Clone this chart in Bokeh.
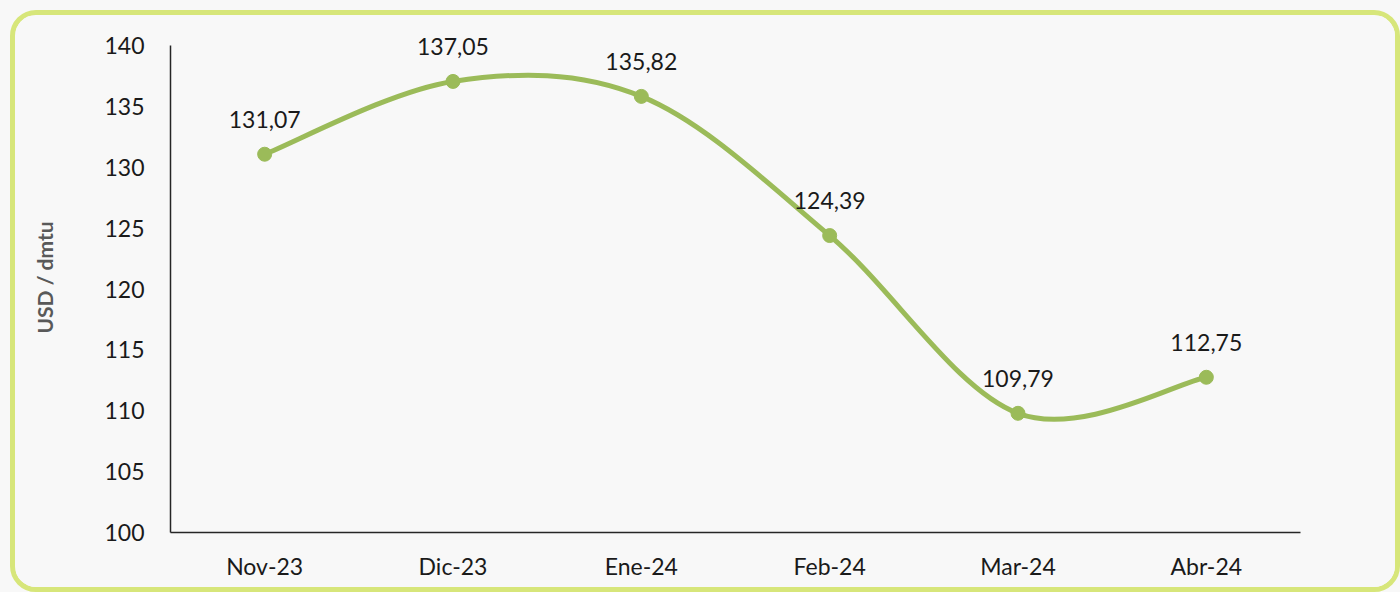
from bokeh.plotting import figure
from bokeh.models import FixedTicker, ColumnDataSource, Range1d, LabelSet
from bokeh.core.properties import value
from bokeh.layouts import column
from bokeh.embed import file_html
from bokeh.resources import INLINE

months = ["Nov-23", "Dic-23", "Ene-24", "Feb-24", "Mar-24", "Abr-24"]
prices = [131.07, 137.05, 135.82, 124.39, 109.79, 112.75]
y_ticks = [100, 105, 110, 115, 120, 125, 130, 135, 140]

FONT = "Lato"
GREEN = "#9bbb59"
BG = "#f8f8f8"

xs = list(range(len(months)))
labels = [f"{v:.2f}".replace(".", ",") for v in prices]

p = figure(width=1380, height=572, output_backend="svg", toolbar_location=None,
           x_range=Range1d(-0.5, len(months) - 0.5), y_range=Range1d(100, 141.89),
           min_border_left=155, min_border_right=95, min_border_top=7, min_border_bottom=55)
p.background_fill_color = BG
p.border_fill_color = BG
p.outline_line_color = None
p.grid.visible = False

# smoothed line (Catmull-Rom style bezier segments through the data points)
n = len(prices)
x0, y0, x1, y1, cx0, cy0, cx1, cy1 = [], [], [], [], [], [], [], []
for i in range(n - 1):
    pm = max(i - 1, 0)
    pp = min(i + 2, n - 1)
    x0.append(xs[i]); y0.append(prices[i])
    x1.append(xs[i + 1]); y1.append(prices[i + 1])
    cx0.append(xs[i] + (xs[i + 1] - xs[pm]) / 6)
    cy0.append(prices[i] + (prices[i + 1] - prices[pm]) / 6)
    cx1.append(xs[i + 1] - (xs[pp] - xs[i]) / 6)
    cy1.append(prices[i + 1] - (prices[pp] - prices[i]) / 6)
p.bezier(x0=x0, y0=y0, x1=x1, y1=y1, cx0=cx0, cy0=cy0, cx1=cx1, cy1=cy1,
         line_color=GREEN, line_width=5)

src = ColumnDataSource(dict(x=xs, y=prices, lab=labels))
p.scatter("x", "y", source=src, size=14, fill_color=GREEN, line_color=GREEN)
lbl = LabelSet(x="x", y="y", text="lab", source=src, text_align="center",
               text_baseline="middle", y_offset=35, text_font=value(FONT),
               text_font_size=value("23px"), text_color="#1a1a1a")
p.add_layout(lbl)

# axes
p.xaxis.ticker = FixedTicker(ticks=xs)
p.xaxis.major_label_overrides = {i: m for i, m in enumerate(months)}
p.yaxis.ticker = FixedTicker(ticks=y_ticks)
p.yaxis.bounds = (100, 140)
for ax in (p.xaxis, p.yaxis):
    ax.major_tick_line_color = None
    ax.minor_tick_line_color = None
    ax.axis_line_color = "#262626"
    ax.axis_line_width = 1.5
    ax.major_label_text_font = FONT
    ax.major_label_text_font_size = "23px"
    ax.major_label_text_color = "#1a1a1a"
p.xaxis.major_label_standoff = 13
p.yaxis.major_label_standoff = 20
p.yaxis.axis_label = "USD / dmtu"
p.yaxis.axis_label_text_font = FONT
p.yaxis.axis_label_text_font_style = "bold"
p.yaxis.axis_label_text_font_size = "21px"
p.yaxis.axis_label_text_color = "#595959"
p.yaxis.axis_label_standoff = 44

inner = column(p, styles={"border": "5px solid #d7e67a", "border-radius": "26px",
                          "background-color": BG, "overflow": "hidden"})
outer = column(inner, styles={"background-color": BG, "padding-left": "10px",
                              "padding-top": "10px"})

open("out.html", "w").write(file_html(outer, INLINE))
